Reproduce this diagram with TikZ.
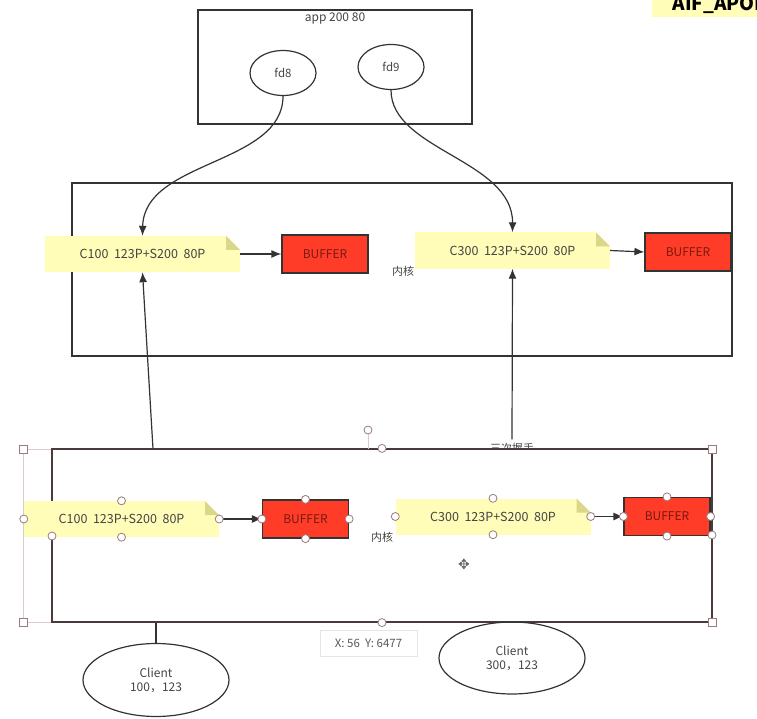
\documentclass[tikz,border=0pt]{standalone}
\usepackage{fontspec}
\setmainfont{Noto Sans CJK SC}
\setsansfont{Noto Sans CJK SC}
\newfontfamily\symfont{DejaVu Sans}
\usepackage{xcolor}
\usepackage{tikz}
\usetikzlibrary{shapes,shapes.geometric,arrows,positioning,calc,arrows.meta}

\definecolor{linec}{HTML}{333333}
\definecolor{textc}{HTML}{444444}
\definecolor{notebg}{HTML}{FFFDB8}
\definecolor{notefold}{HTML}{D9D78A}
\definecolor{bufred}{HTML}{FF3C28}
\definecolor{buftext}{HTML}{7A1A10}
\definecolor{selc}{HTML}{DCCBCB}
\definecolor{handlec}{HTML}{9A7A7A}
\definecolor{kernsel}{HTML}{4A3A3A}

\begin{document}
\begin{tikzpicture}[x=1pt,y=-1pt,
    every node/.style={text=textc},
    box/.style={rectangle, draw=linec, line width=1.2pt, inner sep=0pt},
    fdnode/.style={ellipse, draw=linec, line width=1.2pt, inner sep=0pt, minimum width=66pt, minimum height=45pt, font=\fontsize{11.5}{13}\selectfont},
    client/.style={ellipse, draw=linec, line width=1.2pt, inner sep=0pt, minimum width=146pt, minimum height=73pt, align=center, font=\fontsize{12}{14}\selectfont},
    note/.style={rectangle, fill=notebg, minimum width=195pt, minimum height=36pt, inner sep=0pt, font=\fontsize{12.5}{14}\selectfont,
        path picture={
            \fill[white] ([xshift=-14pt]path picture bounding box.north east) -- (path picture bounding box.north east) -- ([yshift=-14pt]path picture bounding box.north east) -- cycle;
            \fill[notefold] ([xshift=-14pt]path picture bounding box.north east) -- ([yshift=-14pt]path picture bounding box.north east) -- ([xshift=-14pt,yshift=-14pt]path picture bounding box.north east) -- cycle;
        }},
    buffer/.style={rectangle, draw=linec, fill=bufred, line width=1.2pt, minimum width=86pt, minimum height=38pt, inner sep=0pt, text=buftext, font=\fontsize{12}{14}\selectfont},
    small/.style={font=\fontsize{11}{13}\selectfont},
    flow/.style={draw=linec, line width=1.2pt, -{Latex[length=10pt,width=8pt]}},
    handle/.style={circle, draw=handlec, fill=white, line width=0.8pt, inner sep=0pt, minimum size=8pt},
    corner/.style={rectangle, draw=handlec, fill=white, line width=0.8pt, inner sep=0pt, minimum size=8pt}]

\useasboundingbox (0,0) rectangle (757,719);

% top right note, cut by the page
\fill[notebg] (652,-5) rectangle (770,17);
\node[anchor=base west, text=black, font=\bfseries\fontsize{19}{19}\selectfont] (aif) at (669,11) {AIF\_APOF};

% application
\node[box, minimum width=274pt, minimum height=114pt] (app) at (335,67) {};
\node[font=\fontsize{12}{14}\selectfont, below=0pt of app.north] (applabel) {app 200 80};
\node[fdnode] (fd8) at (283,73) {fd8};
\node[fdnode] (fd9) at (391,67) {fd9};

% kernel, server side
\node[box, minimum width=660pt, minimum height=173pt] (kern1) at (402,269.5) {};
\node[note] (snote1) at (142.5,254) {C100~~123P+S200~~80P};
\node[buffer] (sbuf1) at (325,254) {BUFFER};
\node[note] (snote2) at (512.5,250.5) {C300~~123P+S200~~80P};
\node[buffer] (sbuf2) at (688,252) {BUFFER};
\node[small] (skern) at (403,271) {内核};

\draw[flow] (snote1.east) -- (sbuf1.west);
\draw[flow] (snote2.east) -- (sbuf2.west);
\draw[flow] (fd8.south) .. controls (283,165) and (144,160) .. (snote1.north);
\draw[flow] (fd9.south) .. controls (391,150) and (513,160) .. (snote2.north);

% handshake, half hidden by the client kernel
\node[small] (shake) at (512,448) {三次握手};
\draw[flow] (shake.north) -- (snote2.south);
\coordinate (up1) at (153,449);
\draw[flow] (up1) -- (snote1.south);

% kernel, client side (selected)
\draw[selc, line width=1pt] (23,449) rectangle (712,622);
\node[box, draw=kernsel, fill=white, minimum width=660pt, minimum height=173pt] (kern2) at (382,535.5) {};
\node[note] (cnote1) at (121.5,519) {C100~~123P+S200~~80P};
\node[buffer] (cbuf1) at (305.5,519) {BUFFER};
\node[note] (cnote2) at (493,516.5) {C300~~123P+S200~~80P};
\node[buffer] (cbuf2) at (667,516.5) {BUFFER};
\node[small] (ckern) at (382,537) {内核};

\draw[flow] (cnote1.east) -- (cbuf1.west);
\draw[flow] (cnote2.east) -- (cbuf2.west);

% clients
\node[client] (client1) at (156,680) {Client\\100，123};
\node[client, minimum height=72pt] (client2) at (512,658) {Client\\300，123};
\draw[linec, line width=1.2pt] (client1.north) -- (client1.north |- kern2.south);

% selection handles
\draw[selc, line width=1pt] (368,430) -- (368,449);
\node[handle] (rot) at (368,430) {};
\foreach \n in {cnote1,cbuf1,cnote2,cbuf2}
    \foreach \a in {north,south,east,west}
        \node[handle] at (\n.\a) {};
\node[handle] (hb) at (52,536) {};
\node[handle] (ht) at (kern2.north) {};
\node[handle] (hs) at (kern2.south) {};
\node[handle] (hr) at (712,535) {};
\foreach \p in {(23,449),(712,449),(23,622),(712,622)}
    \node[corner] at \p {};

% tooltip and cursor
\node[draw=black!10, fill=white, minimum width=97pt, minimum height=26pt, inner sep=0pt, font=\fontsize{11.5}{13}\selectfont, text=black!65] (tip) at (368.5,643) {X: 56~~Y: 6477};
\node[font=\symfont\fontsize{14}{14}\selectfont, text=black!60] (cursor) at (464,564) {✥};
\end{tikzpicture}
\end{document}
